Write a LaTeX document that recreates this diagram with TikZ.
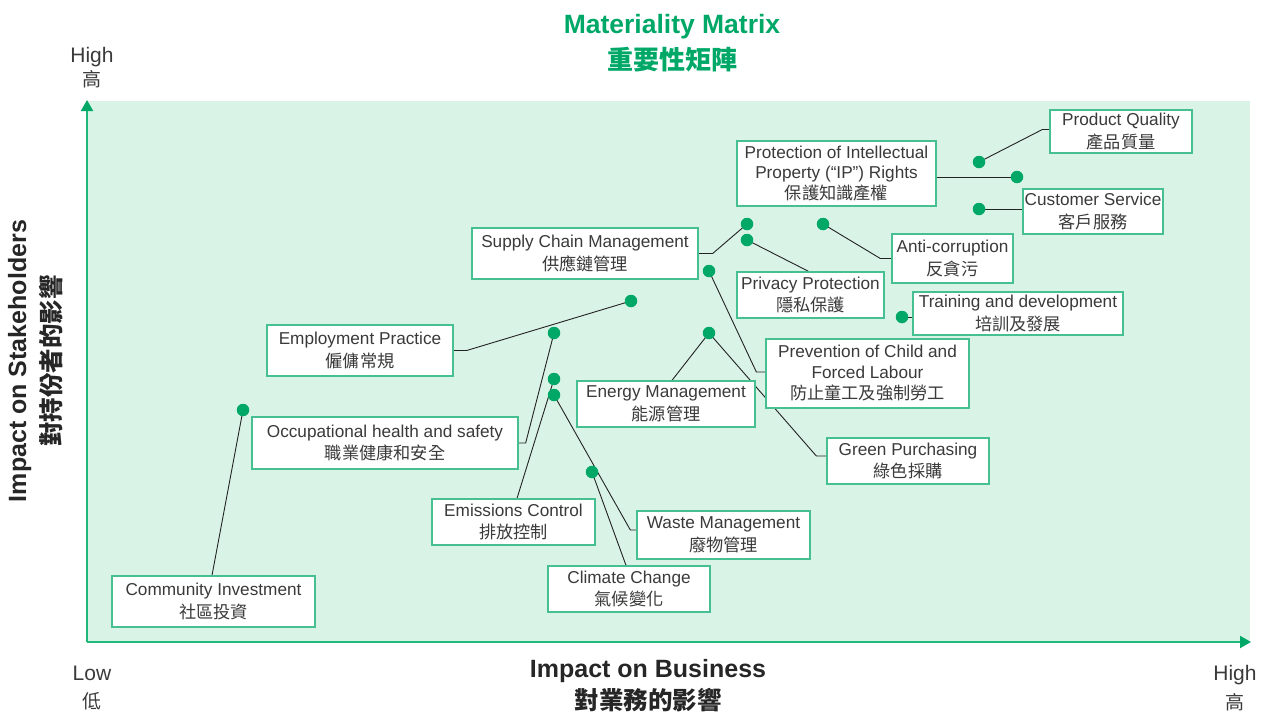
\documentclass[tikz,border=0pt]{standalone}
\usepackage{fontspec}
\setmainfont{Liberation Sans}
\newfontfamily\cjk{Noto Sans CJK TC}
\usetikzlibrary{arrows.meta}
\definecolor{accent}{RGB}{0,168,104}
\definecolor{axisgreen}{RGB}{30,185,120}
\definecolor{bgreen}{RGB}{217,243,231}
\definecolor{bordergreen}{RGB}{70,192,145}
\definecolor{txt}{RGB}{58,58,58}
\definecolor{linec}{RGB}{35,35,35}
\pgfdeclarelayer{bglayer}
\pgfdeclarelayer{linelayer}
\pgfsetlayers{bglayer,linelayer,main}
\begin{document}
\begin{tikzpicture}[x=1pt,y=-1pt,
  box/.style={draw=bordergreen, line width=1.3pt, fill=white, align=center, text=txt, inner sep=0pt, font=\fontsize{17.2}{22.5}\selectfont},
  dot/.style={circle, fill=accent, minimum size=12.5pt, inner sep=0pt},
  conn/.style={draw=linec, line width=0.9pt},
  lab/.style={text=txt, inner sep=0pt},
  axis/.style={draw=axisgreen, line width=2pt, -{Triangle[width=12pt,length=11pt,fill=accent,color=accent]}}]
\path[use as bounding box] (0,0) rectangle (1268,713);

% titles and axis labels
\node[text=accent, inner sep=0pt, anchor=base, font=\fontsize{26.5}{30}\selectfont\bfseries] (title) at (672,33) {Materiality Matrix};
\node[text=accent, inner sep=0pt, font=\fontsize{26}{30}\selectfont\cjk\bfseries] (titlecjk) at (672,60) {重要性矩陣};
\node[lab, anchor=base, font=\fontsize{21}{24}\selectfont] (yhigh) at (92,62) {High};
\node[lab, font=\fontsize{19}{22}\selectfont\cjk] (yhighc) at (92,79) {高};
\node[lab, anchor=base, font=\fontsize{21}{24}\selectfont] (xlow) at (92,680) {Low};
\node[lab, font=\fontsize{19}{22}\selectfont\cjk] (xlowc) at (92,701) {低};
\node[lab, anchor=base, font=\fontsize{21}{24}\selectfont] (xhigh) at (1235,680) {High};
\node[lab, font=\fontsize{19}{22}\selectfont\cjk] (xhighc) at (1235,702) {高};
\node[text=black!85, inner sep=0pt, anchor=base, font=\fontsize{25}{28}\selectfont\bfseries] (xlab) at (648,677) {Impact on Business};
\node[text=black!85, inner sep=0pt, font=\fontsize{24.5}{28}\selectfont\cjk\bfseries] (xlabc) at (648,700) {對業務的影響};
\node[text=black!85, inner sep=0pt, anchor=base, rotate=90, font=\fontsize{25}{28}\selectfont\bfseries] (ylab) at (26,361) {Impact on Stakeholders};
\node[text=black!85, inner sep=0pt, rotate=90, font=\fontsize{24.5}{28}\selectfont\cjk\bfseries] (ylabc) at (51,361) {對持份者的影響};

% background and axes
\coordinate (origin) at (87,642);
\coordinate (ytop) at (87,100);
\coordinate (xend) at (1251,642);
\begin{pgfonlayer}{bglayer}
\fill[bgreen] (87,101) rectangle (1250,642);
\draw[axis] (origin) -- (ytop);
\draw[axis] (origin) -- (xend);
\end{pgfonlayer}

% boxes
\node[box, minimum width=142pt, minimum height=43pt] (pq) at (1121,131.5) {Product Quality\\{\cjk 產品質量}};
\node[box, minimum width=199pt, minimum height=65pt, font=\fontsize{17.2}{20.5}\selectfont] (ip) at (836.5,173.5) {Protection of Intellectual\\Property (“IP”) Rights\\{\cjk 保護知識產權}};
\node[box, minimum width=140pt, minimum height=45pt] (cs) at (1093,211.5) {Customer Service\\{\cjk 客戶服務}};
\node[box, minimum width=226pt, minimum height=51pt] (scm) at (585,253.5) {Supply Chain Management\\{\cjk 供應鏈管理}};
\node[box, minimum width=121pt, minimum height=49pt] (anti) at (952.5,258.5) {Anti-corruption\\{\cjk 反貪污}};
\node[box, minimum width=147pt, minimum height=46pt] (priv) at (810.5,295) {Privacy Protection\\{\cjk 隱私保護}};
\node[box, minimum width=210pt, minimum height=43pt] (train) at (1018,313.5) {Training and development\\{\cjk 培訓及發展}};
\node[box, minimum width=186pt, minimum height=51pt] (emp) at (360,350.5) {Employment Practice\\{\cjk 僱傭常規}};
\node[box, minimum width=203pt, minimum height=69pt, font=\fontsize{17.2}{21}\selectfont] (prev) at (867.5,373.5) {Prevention of Child and\\Forced Labour\\{\cjk 防止童工及強制勞工}};
\node[box, minimum width=178pt, minimum height=46pt] (energy) at (666,404) {Energy Management\\{\cjk 能源管理}};
\node[box, minimum width=266pt, minimum height=52pt] (occ) at (385,443) {Occupational health and safety\\{\cjk 職業健康和安全}};
\node[box, minimum width=162pt, minimum height=46pt] (green) at (908,461) {Green Purchasing\\{\cjk 綠色採購}};
\node[box, minimum width=163pt, minimum height=46pt] (emis) at (513.5,522) {Emissions Control\\{\cjk 排放控制}};
\node[box, minimum width=173pt, minimum height=48pt] (waste) at (723.5,535) {Waste Management\\{\cjk 廢物管理}};
\node[box, minimum width=162pt, minimum height=46pt] (climate) at (629,589) {Climate Change\\{\cjk 氣候變化}};
\node[box, minimum width=203pt, minimum height=51pt] (comm) at (213.5,601.5) {Community Investment\\{\cjk 社區投資}};

% dots
\node[dot] (dpq) at (979,162) {};
\node[dot] (dip) at (1017,177) {};
\node[dot] (dcs) at (979,209) {};
\node[dot] (dscm) at (747,224) {};
\node[dot] (dpriv) at (747,240) {};
\node[dot] (danti) at (823,224) {};
\node[dot] (dprev) at (709,271) {};
\node[dot] (demp) at (631,301) {};
\node[dot] (dtrain) at (902,317) {};
\node[dot] (docc) at (554,333) {};
\node[dot] (den) at (709,333) {};
\node[dot] (demis) at (554,379) {};
\node[dot] (dwaste) at (554,395) {};
\node[dot] (dclim) at (592,472) {};
\node[dot] (dcomm) at (243,410) {};

% connectors
\begin{pgfonlayer}{linelayer}
\draw[conn] ([yshift=2pt]pq.west) -- ++(-7,0) -- (dpq.center);
\draw[conn] (ip.east |- dip) -- (dip.center);
\draw[conn] (dcs.center) -- (cs.west |- dcs);
\draw[conn] (scm.east) -- ++(14,0) -- (dscm.center);
\draw[conn] (dpriv.center) -- ([xshift=-2pt]priv.north);
\draw[conn] (anti.west) -- ++(-11,0) -- (danti.center);
\draw[conn] (dtrain.center) -- (train.west |- dtrain);
\draw[conn] (emp.east) -- ++(13,0) -- (demp.center);
\draw[conn] ([yshift=1.5pt]prev.west) -- ++(-9,0) -- (dprev.center);
\draw[conn] (den.center) -- ([xshift=6pt]energy.north);
\draw[conn] ([yshift=5pt]green.west) -- ++(-10,0) -- (den.center);
\draw[conn] (occ.east) -- ++(7,0) -- (docc.center);
\draw[conn] (demis.center) -- ([xshift=3.5pt]emis.north);
\draw[conn] ([yshift=5pt]waste.west) -- ++(-6,0) -- (dwaste.center);
\draw[conn] (dclim.center) -- ([xshift=-3pt]climate.north);
\draw[conn] (dcomm.center) -- ([xshift=-1.5pt]comm.north);
\end{pgfonlayer}
\end{tikzpicture}
\end{document}
